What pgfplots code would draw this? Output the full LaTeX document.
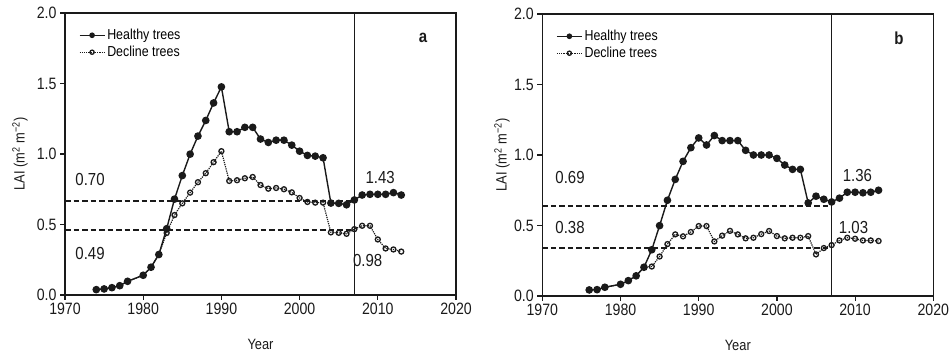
\documentclass[border=0pt]{standalone}
\usepackage{fontspec}
\setmainfont{Liberation Sans}[FakeStretch=0.86]
\usepackage{pgfplots}
\pgfplotsset{compat=1.18}
\definecolor{ink}{HTML}{1A1A1A}
\tikzset{note/.style={font=\fontsize{17.5}{17.5}\selectfont, text=ink, anchor=center}}
\pgfplotsset{
  panel/.style={
    scale only axis, width=391bp, height=282bp,
    xmin=1970, xmax=2020, ymin=0, ymax=2,
    xtick={1970,1980,...,2020}, ytick={0,0.5,1,1.5,2},
    tick align=outside, tick pos=left, major tick length=5bp,
    axis line style={line width=1.3bp, ink}, every tick/.style={line width=1.2bp, ink},
    /pgf/number format/assume math mode=true,
    xticklabel style={/pgf/number format/1000 sep={}},
    yticklabel style={/pgf/number format/.cd, fixed, fixed zerofill, precision=1},
    ticklabel style={font=\fontsize{16.5}{16.5}\selectfont, text=ink},
    label style={font=\fontsize{15}{15}\selectfont, text=ink},
    xlabel={Year},
    ylabel={LAI (m\textsuperscript{2} m\textsuperscript{−2})},
    xlabel style={at={(axis description cs:0.5,-0.177)}, anchor=center},
    legend style={draw=none, fill=none, at={(axis description cs:0.035,0.95)}, anchor=north west,
      font=\fontsize{14.5}{14.5}\selectfont, row sep=1bp, inner sep=0pt,
      /tikz/every even column/.append style={column sep=3bp}},
    legend cell align=left,
    legend image code/.code={\draw[mark repeat=2,mark phase=2, mark size=2.1bp] plot coordinates {(0bp,0bp)(12.5bp,0bp)(25bp,0bp)};},
  },
  healthy/.style={ink, line width=1.4bp, mark=*, mark size=3.1bp, mark options={solid, fill=ink}},
  decline/.style={ink, line width=1.2bp, densely dotted, mark=o, mark size=2.5bp, mark options={solid, fill=white, line width=1.3bp}},
  refline/.style={ink, line width=1.4bp, dash pattern=on 5.5bp off 3bp},
}
\begin{document}
\begin{tikzpicture}
\useasboundingbox (0,0) rectangle (952bp,362bp);
% ---------------- panel a
\begin{axis}[panel, at={(65bp,67bp)}, anchor=south west,
  ylabel style={at={(axis description cs:-0.115,0.5)}, anchor=center}]
\addplot[healthy] coordinates {
(1974,0.038)(1975,0.043)(1976,0.052)(1977,0.066)(1978,0.097)(1980,0.140)(1981,0.197)(1982,0.287)
(1983,0.470)(1984,0.680)(1985,0.847)(1986,0.999)(1987,1.127)(1988,1.238)(1989,1.362)(1990,1.476)
(1991,1.158)(1992,1.158)(1993,1.189)(1994,1.189)(1995,1.106)(1996,1.082)(1997,1.098)(1998,1.098)
(1999,1.063)(2000,1.020)(2001,0.990)(2002,0.985)(2003,0.973)(2004,0.652)(2005,0.650)(2006,0.640)
(2007,0.674)(2008,0.709)(2009,0.714)(2010,0.714)(2011,0.714)(2012,0.726)(2013,0.709)};
\addlegendentry{Healthy trees}
\addplot[decline] coordinates {
(1974,0.038)(1975,0.043)(1976,0.052)(1977,0.066)(1978,0.097)(1980,0.140)(1981,0.197)(1982,0.287)
(1983,0.440)(1984,0.567)(1985,0.650)(1986,0.726)(1987,0.800)(1988,0.864)(1989,0.942)(1990,1.020)
(1991,0.809)(1992,0.814)(1993,0.828)(1994,0.837)(1995,0.780)(1996,0.754)(1997,0.759)(1998,0.750)
(1999,0.728)(2000,0.688)(2001,0.660)(2002,0.655)(2003,0.655)(2004,0.444)(2005,0.441)(2006,0.434)
(2007,0.467)(2008,0.491)(2009,0.491)(2010,0.394)(2011,0.330)(2012,0.323)(2013,0.308)};
\addlegendentry{Decline trees}
\addplot[refline, forget plot] coordinates {(1970,0.667)(2007,0.667)};
\addplot[refline, forget plot] coordinates {(1970,0.460)(2007,0.460)};
\addplot[ink, line width=1.4bp, forget plot] coordinates {(2007,0)(2007,2)};
\node[note] at (axis cs:1973.2,0.816) {0.70};
\node[note] at (axis cs:1973.2,0.297) {0.49};
\node[note] at (axis cs:2010.3,0.830) {1.43};
\node[note] at (axis cs:2008.7,0.247) {0.98};
\node[note] at (axis cs:2015.8,1.820) {\textbf{a}};
\end{axis}
% ---------------- panel b
\begin{axis}[panel, at={(542.3bp,66bp)}, anchor=south west,
  ylabel style={at={(axis description cs:-0.103,0.5)}, anchor=center}]
\addplot[healthy] coordinates {
(1976,0.043)(1977,0.045)(1978,0.062)(1980,0.083)(1981,0.109)(1982,0.143)(1983,0.204)(1984,0.328)
(1985,0.499)(1986,0.679)(1987,0.827)(1988,0.955)(1989,1.052)(1990,1.121)(1991,1.071)(1992,1.138)
(1993,1.102)(1994,1.102)(1995,1.102)(1996,1.033)(1997,1.000)(1998,1.000)(1999,1.000)(2000,0.976)
(2001,0.929)(2002,0.898)(2003,0.898)(2004,0.660)(2005,0.708)(2006,0.686)(2007,0.667)(2008,0.694)
(2009,0.736)(2010,0.736)(2011,0.732)(2012,0.736)(2013,0.750)};
\addlegendentry{Healthy trees}
\addplot[decline] coordinates {
(1976,0.043)(1977,0.045)(1978,0.062)(1980,0.083)(1981,0.109)(1982,0.143)(1983,0.204)(1984,0.209)
(1985,0.280)(1986,0.368)(1987,0.437)(1988,0.423)(1989,0.454)(1990,0.496)(1991,0.496)(1992,0.387)
(1993,0.428)(1994,0.462)(1995,0.437)(1996,0.409)(1997,0.413)(1998,0.439)(1999,0.461)(2000,0.425)
(2001,0.409)(2002,0.413)(2003,0.413)(2004,0.425)(2005,0.295)(2006,0.340)(2007,0.361)(2008,0.394)
(2009,0.413)(2010,0.406)(2011,0.394)(2012,0.394)(2013,0.390)};
\addlegendentry{Decline trees}
\addplot[refline, forget plot] coordinates {(1970,0.637)(2007,0.637)};
\addplot[refline, forget plot] coordinates {(1970,0.340)(2007,0.340)};
\addplot[ink, line width=1.4bp, forget plot] coordinates {(2007,0)(2007,2)};
\node[note] at (axis cs:1973.55,0.840) {0.69};
\node[note] at (axis cs:1973.55,0.484) {0.38};
\node[note] at (axis cs:2010.3,0.854) {1.36};
\node[note] at (axis cs:2009.8,0.484) {1.03};
\node[note] at (axis cs:2015.6,1.830) {\textbf{b}};
\end{axis}
\end{tikzpicture}
\end{document}
